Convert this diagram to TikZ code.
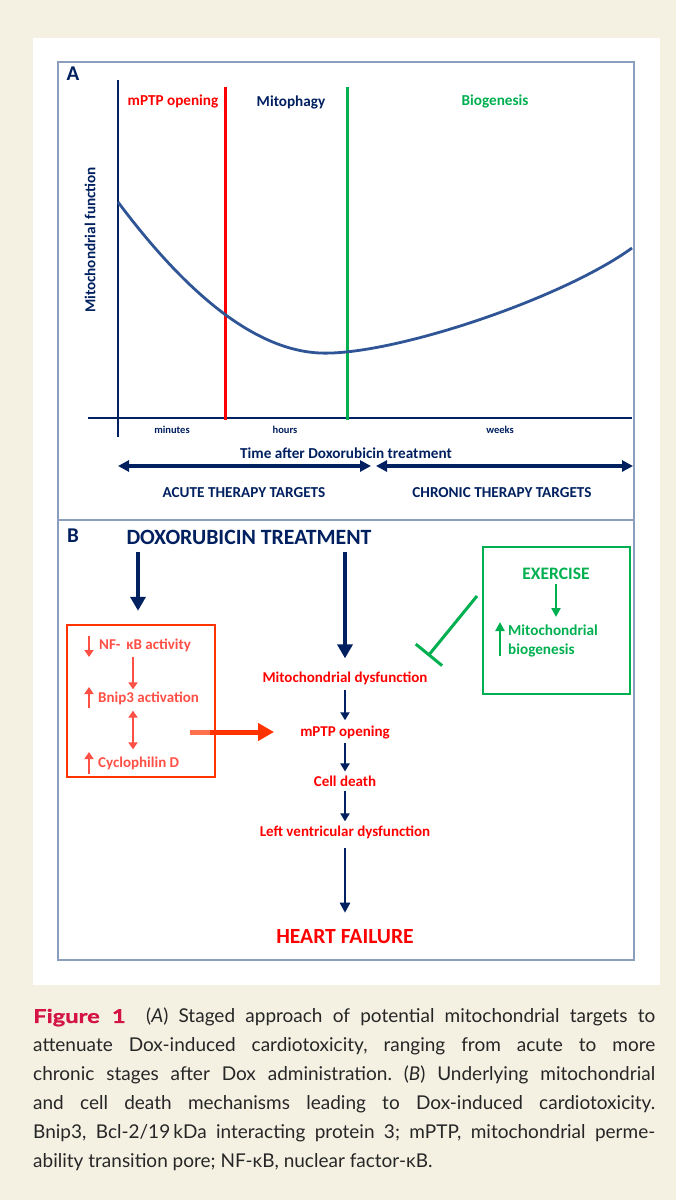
\documentclass[tikz,border=0pt]{standalone}
\usepackage{fontspec}
\setmainfont{Carlito}
\newfontfamily\capfont{Lato}
\newfontfamily\figfont[FakeStretch=1.25,FakeBold=1.2]{Lato}
\usetikzlibrary{arrows.meta}

\definecolor{navy}{RGB}{0,32,96}
\definecolor{curveblue}{RGB}{47,85,151}
\definecolor{coral}{RGB}{255,80,70}
\definecolor{boxred}{RGB}{255,51,0}
\definecolor{exgreen}{RGB}{0,176,80}
\definecolor{framegray}{RGB}{140,158,190}
\definecolor{beige}{RGB}{244,241,227}
\definecolor{crimson}{RGB}{213,20,70}

\begin{document}
\begin{tikzpicture}[x=1pt,y=-1pt,
  panellbl/.style={font=\fontsize{21}{22}\selectfont\bfseries, text=navy},
  phase/.style={font=\fontsize{15.2}{17}\selectfont\bfseries},
  ticklbl/.style={font=\fontsize{10.5}{12}\selectfont\bfseries, text=navy},
  axislbl/.style={font=\fontsize{15.2}{17}\selectfont\bfseries, text=navy},
  flowtxt/.style={font=\fontsize{15}{17}\selectfont\bfseries, text=red, inner sep=2pt},
  boxtxt/.style={font=\fontsize{15}{17}\selectfont\bfseries, text=coral, anchor=west, inner sep=1pt},
  greentxt/.style={font=\fontsize{15.2}{18.5}\selectfont\bfseries, text=exgreen, inner sep=1pt},
  longarrow/.style={line width=3.5pt, navy, {Triangle[length=11pt,width=11pt]}-{Triangle[length=11pt,width=11pt]}},
  bigarrow/.style={line width=4.5pt, navy, -{Triangle[length=14pt,width=15pt]}},
  smallarrow/.style={line width=2.5pt, navy, -{Triangle[length=8pt,width=9pt]}},
  redind/.style={line width=2.8pt, coral, -{Triangle[length=7pt,width=9pt]}},
  greenind/.style={line width=2.5pt, exgreen, -{Triangle[length=9pt,width=9pt]}},
]
\useasboundingbox (0,0) rectangle (676,1200);
\fill[beige] (0,0) rectangle (676,1200);
\fill[white] (33,38) rectangle (660,985);

% panel A
\draw[framegray, line width=1.2pt] (58,62) rectangle (634,520);
\node[panellbl] (lblA) at (73,74) {A};
\draw[navy, line width=1.2pt] (118,80) -- (118,437);
\draw[navy, line width=1.2pt] (88,418) -- (632,418);
\draw[red, line width=3pt] (225,87) -- (225,420);
\draw[exgreen, line width=3pt] (347,87) -- (347,420);
\node[phase, text=red] (mptpA) at (173,101) {mPTP opening};
\node[phase, text=navy] (mitophagy) at (291,102) {Mitophagy};
\node[phase, text=exgreen] (biogen) at (495,101) {Biogenesis};
\node[axislbl, rotate=90] (yaxis) at (90,240) {Mitochondrial function};
\draw[curveblue, line width=2.8pt] (118,202) .. controls (180,285) and (250,350) .. (320,353)
  .. controls (390,356) and (560,300) .. (632,248);
\node[ticklbl] (tmin) at (172,430) {minutes};
\node[ticklbl] (thour) at (285,430) {hours};
\node[ticklbl] (tweek) at (500,430) {weeks};
\node[axislbl] (xaxis) at (346,453) {Time after Doxorubicin treatment};
\coordinate (acuteL) at (118,466);
\coordinate (acuteR) at (371,466);
\coordinate (chronL) at (376,466);
\coordinate (chronR) at (633,466);
\draw[longarrow] (acuteL) -- (acuteR);
\draw[longarrow] (chronL) -- (chronR);
\node[axislbl] (acute) at (244,493) {ACUTE THERAPY TARGETS};
\node[axislbl] (chronic) at (502,493) {CHRONIC THERAPY TARGETS};

% panel B
\draw[framegray, line width=1.2pt] (58,520) rectangle (634,960);
\node[panellbl] (lblB) at (73,536) {B};
\node[panellbl, font=\fontsize{21.8}{23}\selectfont\bfseries] (dox) at (249,537) {DOXORUBICIN TREATMENT};

\node[draw=boxred, line width=2.5pt, minimum width=148pt, minimum height=152pt] (redbox) at (141,701) {};
\node[boxtxt] (nfkb) at (98,645) {NF-\, κB activity};
\node[boxtxt] (bnip) at (97,698) {Bnip3 activation};
\node[boxtxt] (cyclo) at (97,763) {Cyclophilin D};
\coordinate (rmid) at (133,0);
\draw[redind] (89,636) -- (89,657);
\draw[redind] (89,708) -- (89,687);
\draw[redind] (89,774) -- (89,752);
\draw[redind] ([yshift=-4pt]nfkb.south -| rmid) -- ([yshift=1pt]bnip.north -| rmid);
\draw[line width=2.8pt, coral, {Triangle[length=7pt,width=9pt]}-{Triangle[length=7pt,width=9pt]}] ([yshift=-5pt]bnip.south -| rmid) -- ([yshift=6pt]cyclo.north -| rmid);

\node[flowtxt] (mito) at (345,678) {Mitochondrial dysfunction};
\node[flowtxt] (mptp) at (345,732) {mPTP opening};
\node[flowtxt] (death) at (345,781) {Cell death};
\node[flowtxt] (lvd) at (345,832) {Left ventricular dysfunction};
\node[flowtxt, font=\fontsize{21.6}{23}\selectfont\bfseries] (hf) at (345,937) {HEART FAILURE};

\draw[bigarrow, shorten <=4pt] (mito.north |- dox.south) -- ([yshift=11pt]mito.north);
\draw[bigarrow, shorten <=4pt] (dox.south -| 138,0) -- ([yshift=13pt]redbox.north -| 138,0);
\draw[smallarrow] ([yshift=-3pt]mito.south) -- ([yshift=3pt]mptp.north);
\draw[smallarrow] ([yshift=-2pt]mptp.south) -- ([yshift=2pt]death.north);
\draw[smallarrow] ([yshift=-2pt]death.south) -- ([yshift=2pt]lvd.north);
\draw[bigarrow, line width=2.8pt, -{Triangle[length=10pt,width=10pt]}] ([yshift=-7pt]lvd.south) -- ([yshift=15pt]hf.north);

\draw[line width=5pt, boxred!70!white] ([xshift=-26pt]redbox.east |- mptp) -- ([xshift=-6pt]redbox.east |- mptp);
\draw[line width=5pt, boxred, -{Triangle[length=16pt,width=17pt]}] ([xshift=-6pt]redbox.east |- mptp) -- ([xshift=-24pt]mptp.west);

\node[draw=exgreen, line width=2.5pt, minimum width=147pt, minimum height=147pt] (greenbox) at (556.5,620.5) {};
\node[greentxt, font=\fontsize{17.5}{19}\selectfont\bfseries] (exercise) at (556,574) {EXERCISE};
\node[greentxt, anchor=west, align=left] (mitobio) at (507,641) {Mitochondrial\\biogenesis};
\draw[greenind] ([yshift=-3pt]exercise.south) -- (556,617);
\draw[greenind] (500,656) -- (500,622);
\coordinate (inhA) at (477,596);
\coordinate (inhB) at (428,656);
\draw[exgreen, line width=3pt, -{Bar[width=34pt]}] (inhA) -- (inhB);

% caption
\node[anchor=north west, inner sep=0pt, text width=622pt, align=justify,
  font=\capfont\fontsize{19}{29}\selectfont, text={black!85}] (caption) at (33,1008)
{\hyphenpenalty=10000\frenchspacing{\color{crimson}\figfont\bfseries Figure 1}\ \ (\textit{A}) Staged approach of potential mitochondrial targets to\linebreak
attenuate Dox-induced cardiotoxicity, ranging from acute to more\linebreak
chronic stages after Dox administration. (\textit{B}) Underlying mitochondrial\linebreak
and cell death mechanisms leading to Dox-induced cardiotoxicity.\linebreak
Bnip3, Bcl-2/19\,kDa interacting protein 3; mPTP, mitochondrial perme-\linebreak
ability transition pore; NF-κB, nuclear factor-κB.};
\end{tikzpicture}
\end{document}
